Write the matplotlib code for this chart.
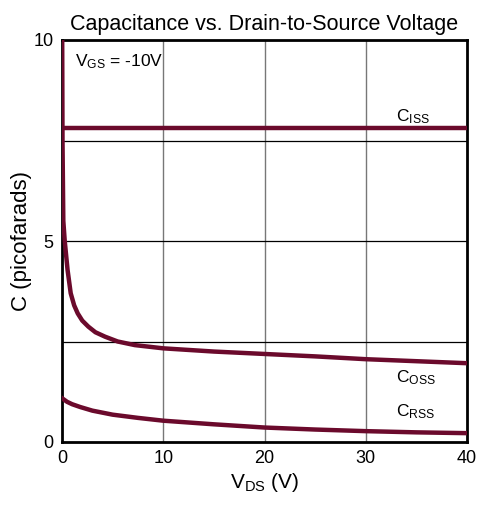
import matplotlib
matplotlib.use("Agg")
import matplotlib.pyplot as plt

plt.rcParams['font.family'] = ['Liberation Sans', 'DejaVu Sans']
plt.rcParams['mathtext.fontset'] = 'custom'
plt.rcParams['mathtext.rm'] = 'Liberation Sans'
plt.rcParams['mathtext.it'] = 'Liberation Sans'

# Data (V_DS in volts, C in pF)
ciss_v = [0, 40]
ciss_c = [7.8, 7.8]

coss_v = [0.02, 0.05, 0.13, 0.27, 0.55, 0.86, 1.2, 1.55, 2.0, 2.6, 3.3, 4.25,
          5.5, 7.2, 10, 15, 20, 25, 30, 35, 40]
coss_c = [10, 7.5, 5.5, 5.0, 4.28, 3.7, 3.4, 3.2, 3.02, 2.87, 2.73, 2.62,
          2.5, 2.41, 2.33, 2.25, 2.19, 2.13, 2.06, 2.01, 1.96]

crss_v = [0, 0.5, 1, 1.8, 3, 5, 7.5, 10, 15, 20, 25, 30, 35, 40]
crss_c = [1.09, 1.0, 0.94, 0.87, 0.78, 0.68, 0.6, 0.53, 0.44, 0.36, 0.31, 0.27, 0.24, 0.22]

x_ticks = [0, 10, 20, 30, 40]
y_ticks = [0, 5, 10]

color = '#6b0a2c'

fig = plt.figure(figsize=(4.82, 5.08), dpi=100)
ax = fig.add_axes([62/482, 1 - 442/508, 405/482, 402/508])

# grid
for gx in [10, 20, 30]:
    ax.axvline(gx, color='#777777', lw=1.0, zorder=1)
for gy in [2.5, 5, 7.5]:
    ax.axhline(gy, color='black', lw=0.9, zorder=1)

ax.plot(ciss_v, ciss_c, color=color, lw=3.2, zorder=3, solid_capstyle='butt')
ax.plot(coss_v, coss_c, color=color, lw=3.2, zorder=3)
ax.plot(crss_v, crss_c, color=color, lw=3.2, zorder=3)

ax.set_xlim(0, 40)
ax.set_ylim(0, 10)
ax.set_xticks(x_ticks)
ax.set_yticks(y_ticks)
ax.tick_params(length=0, labelsize=13, pad=6)
for s in ax.spines.values():
    s.set_linewidth(2)

ax.set_title('Capacitance vs. Drain-to-Source Voltage', fontsize=15.5, pad=7)
ax.set_xlabel(r'V$_{\mathrm{DS}}$ (V)', fontsize=15, labelpad=3)
ax.set_ylabel('C (picofarads)', fontsize=16)
ax.yaxis.set_label_coords(-0.074, 0.5)

ax.text(1.3, 9.45, r'V$_{\mathrm{GS}}$ = -10V', fontsize=12.5, va='center')
ax.text(33, 8.1, r'C$_{\mathrm{ISS}}$', fontsize=12.5, va='center')
ax.text(33, 1.6, r'C$_{\mathrm{OSS}}$', fontsize=12.5, va='center')
ax.text(33, 0.75, r'C$_{\mathrm{RSS}}$', fontsize=12.5, va='center')

fig.savefig('out.png', dpi=100)
